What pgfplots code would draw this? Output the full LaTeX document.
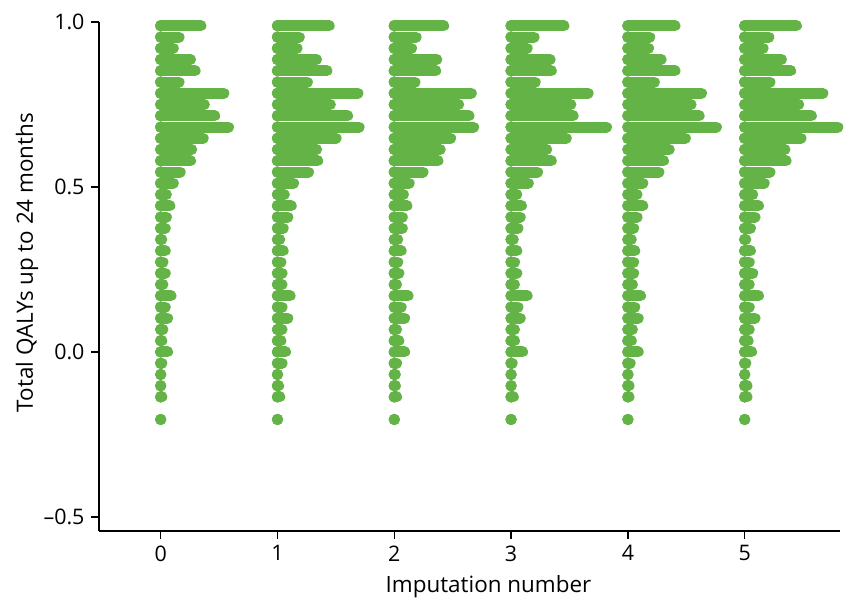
\documentclass[border=0pt]{standalone}
\usepackage{fontspec}
\setmainfont{Open Sans}
\usepackage{pgfplots}
\pgfplotsset{compat=1.18}
\usepackage{pgfplotstable}
\definecolor{qgreen}{RGB}{99,179,71}
% bin value, frequency per imputation (0..5)
\pgfplotstableread{
y n0 n1 n2 n3 n4 n5
0.9886 36 46 44 47 42 46
0.9545 17 20 20 21 20 22
0.9204 12 18 16 15 19 17
0.8863 27 35 38 35 30 33
0.8522 31 44 37 36 42 41
0.8181 17 27 19 22 24 23
0.7840 56 71 68 68 65 69
0.7499 39 47 57 53 56 48
0.7158 48 62 66 55 63 59
0.6817 60 72 70 84 78 82
0.6477 38 52 50 49 51 50
0.6136 28 35 41 32 37 36
0.5795 27 36 39 36 32 37
0.5454 18 28 26 24 28 23
0.5113 12 15 14 16 14 18
0.4772 6 7 9 6 9 8
0.4431 9 13 12 10 14 13
0.4090 6 10 8 9 9 10
0.3749 5 6 8 7 6 6
0.3409 2 3 4 3 4 2
0.3068 5 6 7 6 7 6
0.2727 3 4 4 4 6 5
0.2386 5 5 5 6 6 8
0.2045 3 5 3 4 5 5
0.1704 10 12 13 15 12 13
0.1363 5 5 7 7 7 5
0.1023 7 10 10 9 10 10
0.0682 3 5 3 4 5 5
0.0341 2 4 5 4 4 4
0.0000 7 8 10 11 10 7
-0.0341 2 5 3 2 3 2
-0.0682 1 1 2 1 1 1
-0.1023 1 2 2 1 2 3
-0.1363 2 3 3 3 2 3
-0.2045 1 1 1 1 1 1
}\dots
\pgfplotsset{
  dotrow/.style={qgreen, only marks, mark=*, mark size=5.5bp,
    mark options={draw=none, fill=qgreen},
    error bars/.cd, x dir=plus, x explicit, error mark=none,
    error bar style={line width=11bp, line cap=round, qgreen}}
}
\begin{document}
\begin{tikzpicture}
\begin{axis}[
  scale only axis, width=741bp, height=509bp,
  xmin=-0.528, xmax=5.816, ymin=-0.5424, ymax=1.0,
  axis x line*=bottom, axis y line*=left,
  axis line style={line width=1.3bp, black},
  tick style={line width=1.3bp, black},
  tick align=outside, major tick length=8bp,
  xtick={0,1,2,3,4,5},
  ytick={-0.5,0,0.5,1},
  yticklabels={--0.5,0.0,0.5,1.0},
  /pgf/number format/assume math mode=true,
  tick label style={font=\fontsize{21.5}{25}\selectfont},
  xticklabel style={yshift=-3bp},
  yticklabel style={xshift=-3bp},
  label style={font=\fontsize{22.5}{26}\selectfont},
  xlabel={Imputation number},
  ylabel={Total QALYs up to 24 months},
  xlabel style={at={(rel axis cs:0.5256,-0.1218)}, anchor=base},
  ylabel style={at={(rel axis cs:-0.0891,0.5275)}, anchor=base},
  clip=false,
]
\path (rel axis cs:-0.1336,-0.1375) rectangle (rel axis cs:1.0081,1.0432);
\addplot[dotrow] table[x expr=0, y=y, x error expr={(\thisrow{n0}-1)*0.009846}] \dots;
\addplot[dotrow] table[x expr=1, y=y, x error expr={(\thisrow{n1}-1)*0.009846}] \dots;
\addplot[dotrow] table[x expr=2, y=y, x error expr={(\thisrow{n2}-1)*0.009846}] \dots;
\addplot[dotrow] table[x expr=3, y=y, x error expr={(\thisrow{n3}-1)*0.009846}] \dots;
\addplot[dotrow] table[x expr=4, y=y, x error expr={(\thisrow{n4}-1)*0.009846}] \dots;
\addplot[dotrow] table[x expr=5, y=y, x error expr={(\thisrow{n5}-1)*0.009846}] \dots;
\end{axis}
\end{tikzpicture}
\end{document}
